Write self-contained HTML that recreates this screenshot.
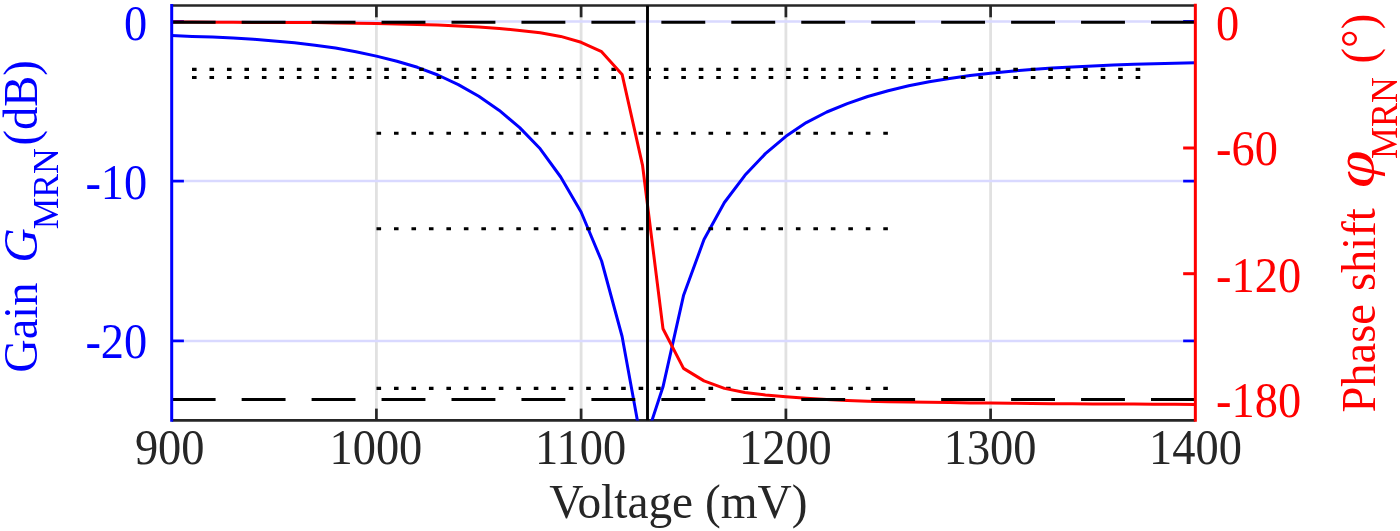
<!DOCTYPE html>
<html><head><meta charset="utf-8"><title>MRN gain and phase shift vs voltage</title>
<style>
html,body{margin:0;padding:0;background:#fff;}
svg{display:block}
text{font-family:"Liberation Serif","Times New Roman",serif;font-size:48.4px;}
</style></head><body>
<svg width="1400" height="531" viewBox="0 0 1400 531">
<rect width="1400" height="531" fill="#fff"/>
<defs><clipPath id="c"><rect x="171.7" y="5.5" width="1023.65" height="414.9"/></clipPath></defs>
<!-- grid -->
<g stroke="#e1e1e1" stroke-width="2.8">
<line x1="376.4" y1="5.5" x2="376.4" y2="420.4"/>
<line x1="581.1" y1="5.5" x2="581.1" y2="420.4"/>
<line x1="785.9" y1="5.5" x2="785.9" y2="420.4"/>
<line x1="990.6" y1="5.5" x2="990.6" y2="420.4"/>
</g>
<g stroke="#d9d9ff" stroke-width="2.5">
<line x1="171.7" y1="21.4" x2="1195.35" y2="21.4"/>
<line x1="171.7" y1="181.1" x2="1195.35" y2="181.1"/>
<line x1="171.7" y1="340.9" x2="1195.35" y2="340.9"/>
</g>
<!-- box top / bottom with ticks -->
<g stroke="#262626" stroke-width="2.7" fill="none">
<line x1="171.7" y1="5.5" x2="1195.35" y2="5.5"/>
<line x1="171.7" y1="420.4" x2="1195.35" y2="420.4"/>
<line x1="376.4" y1="5.5" x2="376.4" y2="17.3"/><line x1="376.4" y1="420.4" x2="376.4" y2="408.6"/>
<line x1="581.1" y1="5.5" x2="581.1" y2="17.3"/><line x1="581.1" y1="420.4" x2="581.1" y2="408.6"/>
<line x1="785.9" y1="5.5" x2="785.9" y2="17.3"/><line x1="785.9" y1="420.4" x2="785.9" y2="408.6"/>
<line x1="990.6" y1="5.5" x2="990.6" y2="17.3"/><line x1="990.6" y1="420.4" x2="990.6" y2="408.6"/>
</g>
<!-- blue y ticks (left axis colour, both sides) -->
<g stroke="#0000ff" stroke-width="2.7">
<line x1="171.7" y1="21.4" x2="183.9" y2="21.4"/>
<line x1="171.7" y1="181.1" x2="183.9" y2="181.1"/>
<line x1="171.7" y1="340.9" x2="183.9" y2="340.9"/>
<line x1="1195.35" y1="21.4" x2="1183.15" y2="21.4"/>
<line x1="1195.35" y1="181.1" x2="1183.15" y2="181.1"/>
<line x1="1195.35" y1="340.9" x2="1183.15" y2="340.9"/>
</g>
<g clip-path="url(#c)" fill="none" stroke-linejoin="round">
<!-- gain curve -->
<polyline points="171.7,35.6 192.2,36.4 212.6,37.1 233.1,38.1 253.6,39.3 274.1,40.9 294.5,42.8 315.0,45.2 335.5,48.1 355.9,51.7 376.4,56.1 396.9,61.3 417.4,67.3 437.8,75.0 458.3,84.6 478.8,96.3 499.3,110.4 519.7,127.6 540.2,148.8 560.7,177.0 581.1,212.0 601.6,261.0 622.1,336.5 642.6,449.0 663.0,386.8 683.5,295.6 704.0,239.5 724.4,202.5 744.9,175.3 765.4,153.6 785.9,136.3 806.3,122.6 826.8,112.0 847.3,103.6 867.7,96.5 888.2,90.7 908.7,85.8 929.2,81.7 949.6,78.4 970.1,75.6 990.6,73.2 1011.1,71.2 1031.5,69.5 1052.0,68.1 1072.5,66.9 1092.9,65.9 1113.4,65.0 1133.9,64.3 1154.4,63.7 1174.8,63.2 1195.3,62.8" stroke="#0000ff" stroke-width="3"/>
<!-- dotted level lines -->
<g stroke="#000" stroke-width="3.1" stroke-dasharray="4.6 12.875">
<line x1="192" y1="69.4" x2="1144" y2="69.4"/>
<line x1="192" y1="77.45" x2="1144" y2="77.45"/>
<line x1="376.5" y1="133.3" x2="888.6" y2="133.3"/>
<line x1="376.5" y1="228.7" x2="888.6" y2="228.7"/>
<line x1="376.5" y1="388.4" x2="888.6" y2="388.4"/>
</g>
<!-- phase curve -->
<polyline points="171.7,21.9 192.2,22.0 212.6,22.2 233.1,22.3 253.6,22.4 274.1,22.4 294.5,22.5 315.0,22.6 335.5,22.9 355.9,23.3 376.4,23.6 396.9,24.0 417.4,24.4 437.8,25.0 458.3,25.9 478.8,27.1 499.3,28.5 519.7,30.4 540.2,32.8 560.7,36.4 581.1,42.3 601.6,51.7 622.1,74.4 642.6,165.7 663.0,328.8 683.5,368.4 704.0,380.9 724.4,388.4 744.9,392.5 765.4,395.0 785.9,396.7 806.3,398.3 826.8,399.6 847.3,400.6 867.7,401.2 888.2,401.7 908.7,402.0 929.2,402.3 949.6,402.6 970.1,402.9 990.6,403.1 1011.1,403.3 1031.5,403.5 1052.0,403.7 1072.5,403.8 1092.9,403.9 1113.4,404.0 1133.9,404.1 1154.4,404.2 1174.8,404.3 1195.3,404.4" stroke="#ff0000" stroke-width="3"/>
<!-- dashed reference lines (0 deg / -180 deg) -->
<line x1="171.7" y1="22.2" x2="1195.35" y2="22.2" stroke="#000" stroke-width="3" stroke-dasharray="43.9 26.05"/>
<line x1="171.7" y1="399.5" x2="1195.35" y2="399.5" stroke="#000" stroke-width="3" stroke-dasharray="43.9 26.05"/>
<!-- resonance marker -->
<line x1="647.5" y1="5.5" x2="647.5" y2="420.4" stroke="#000" stroke-width="2.9"/>
</g>
<!-- left axis (blue) -->
<line x1="171.7" y1="4.0" x2="171.7" y2="421.8" stroke="#0000ff" stroke-width="3"/>
<!-- right axis (red) -->
<g stroke="#ff0000" stroke-width="3">
<line x1="1195.35" y1="3.8" x2="1195.35" y2="421.8"/>
<line x1="1195.35" y1="148.0" x2="1183.15" y2="148.0"/>
<line x1="1195.35" y1="273.7" x2="1183.15" y2="273.7"/>
</g>
<!-- x tick labels -->
<text transform="translate(169.7 464.0) scale(0.925 1)" text-anchor="middle" fill="#262626" style="font-size:50.2px;">900</text>
<text transform="translate(375.9 464.0) scale(0.925 1)" text-anchor="middle" fill="#262626" style="font-size:50.2px;">1000</text>
<text transform="translate(580.6 464.0) scale(0.925 1)" text-anchor="middle" fill="#262626" style="font-size:50.2px;">1100</text>
<text transform="translate(785.4 464.0) scale(0.925 1)" text-anchor="middle" fill="#262626" style="font-size:50.2px;">1200</text>
<text transform="translate(990.1 464.0) scale(0.925 1)" text-anchor="middle" fill="#262626" style="font-size:50.2px;">1300</text>
<text transform="translate(1195.5 464.0) scale(0.925 1)" text-anchor="middle" fill="#262626" style="font-size:50.2px;">1400</text>
<text transform="translate(678.4 517.7) scale(0.978 1)" text-anchor="middle" fill="#262626">Voltage (mV)</text>
<!-- left tick labels -->
<text transform="translate(147.3 40.0) scale(0.925 1)" text-anchor="end" fill="#0000ff" style="font-size:50.2px;">0</text>
<text transform="translate(147.3 198.7) scale(0.925 1)" text-anchor="end" fill="#0000ff" style="font-size:50.2px;">-10</text>
<text transform="translate(147.3 358.0) scale(0.925 1)" text-anchor="end" fill="#0000ff" style="font-size:50.2px;">-20</text>
<!-- right tick labels -->
<text transform="translate(1216.0 40.0) scale(0.925 1)" text-anchor="start" fill="#ff0000" style="font-size:50.2px;">0</text>
<text transform="translate(1216.0 165.4) scale(0.925 1)" text-anchor="start" fill="#ff0000" style="font-size:50.2px;">-60</text>
<text transform="translate(1216.0 291.5) scale(0.925 1)" text-anchor="start" fill="#ff0000" style="font-size:50.2px;">-120</text>
<text transform="translate(1216.0 416.7) scale(0.925 1)" text-anchor="start" fill="#ff0000" style="font-size:50.2px;">-180</text>
<!-- left axis label -->
<text transform="translate(36.8 372.8) rotate(-90) scale(0.96 1)" text-anchor="start" fill="#0000ff">Gain</text>
<text transform="translate(36.8 262.7) rotate(-90) scale(0.985 1)" text-anchor="start" fill="#0000ff" style="font-style:italic;">G</text>
<text transform="translate(58.3 229.3) rotate(-90) scale(0.975 1)" text-anchor="start" fill="#0000ff" style="font-size:36.5px;">MRN</text>
<text transform="translate(36.8 145.4) rotate(-90) scale(0.96 1)" text-anchor="start" fill="#0000ff">(dB)</text>
<!-- right axis label -->
<text transform="translate(1375.2 412.5) rotate(-90) scale(0.96 1)" text-anchor="start" fill="#ff0000">Phase</text>
<text transform="translate(1375.2 291.0) rotate(-90) scale(0.96 1)" text-anchor="start" fill="#ff0000">shift</text>
<text transform="translate(1372.8 188.0) rotate(-90) scale(1.26 1)" text-anchor="start" fill="#ff0000" style="font-size:54px;font-style:italic;">φ</text>
<text transform="translate(1396.7 159.0) rotate(-90) scale(0.971 1)" text-anchor="start" fill="#ff0000" style="font-size:37px;">MRN</text>
<text transform="translate(1375.2 63.4) rotate(-90) scale(0.96 1)" text-anchor="start" fill="#ff0000">(°)</text>
</svg>
</body></html>
